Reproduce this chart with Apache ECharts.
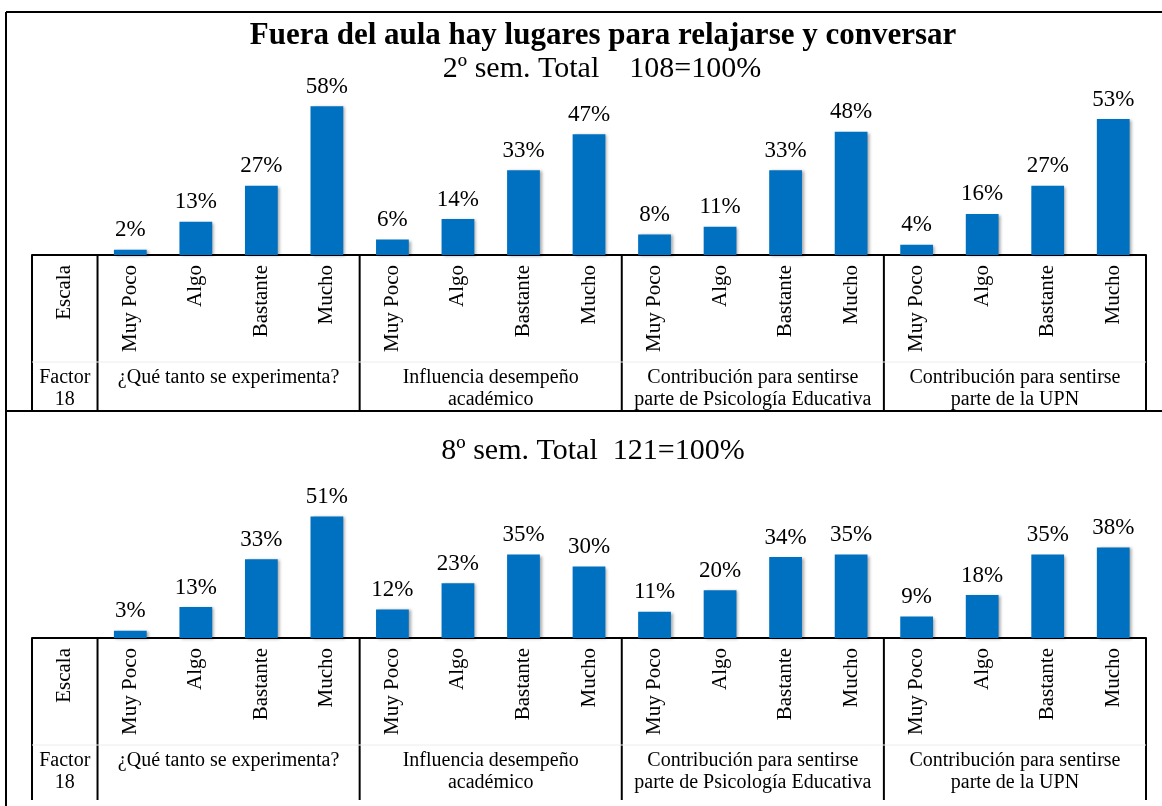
<!DOCTYPE html>
<html>
<head>
<meta charset="utf-8">
<script src="https://cdn.jsdelivr.net/npm/echarts@6/dist/echarts.min.js"></script>
<style>
  html, body { margin: 0; padding: 0; background: #fff; }
  #main { width: 1162px; height: 806px; }
</style>
</head>
<body>
<div id="main"></div>
<script>
// escala y categorias
const escalas = ['Muy Poco', 'Algo', 'Bastante', 'Mucho']
const grupos = [
  '¿Qué tanto se experimenta?',
  'Influencia desempeño\nacadémico',
  'Contribución para sentirse\nparte de Psicología Educativa',
  'Contribución para sentirse\nparte de la UPN'
]
const categorias = ['Escala'].concat(escalas, escalas, escalas, escalas)

// 2º semestre (108 = 100%)
const sem2 = [null, 2, 13, 27, 58, 6, 14, 33, 47, 8, 11, 33, 48, 4, 16, 27, 53]
// 8º semestre (121 = 100%)
const sem8 = [null, 3, 13, 33, 51, 12, 23, 35, 30, 11, 20, 34, 35, 9, 18, 35, 38]

const fuente = 'Liberation Serif'
const azul = '#0070C0'

const chart = echarts.init(document.getElementById('main'))

function ejeX(gridIndex) {
  return {
    type: 'category',
    gridIndex: gridIndex,
    data: categorias,
    axisLine: { lineStyle: { color: '#000', width: 2 } },
    axisTick: { show: false },
    axisLabel: {
      rotate: 90,
      interval: 0,
      margin: 10,
      color: '#000',
      fontSize: 21,
      fontFamily: fuente
    }
  }
}

function ejeY(gridIndex) {
  return {
    type: 'value',
    gridIndex: gridIndex,
    min: 0,
    max: 60,
    show: false,
    splitLine: { show: false }
  }
}

function barras(datos, idx) {
  return {
    type: 'bar',
    xAxisIndex: idx,
    yAxisIndex: idx,
    data: datos,
    barWidth: '50%',
    itemStyle: {
      color: azul,
      shadowColor: 'rgba(0,0,0,0.35)',
      shadowBlur: 3,
      shadowOffsetX: 2,
      shadowOffsetY: 1
    },
    label: {
      show: true,
      position: 'top',
      distance: 8,
      formatter: '{c}%',
      color: '#000',
      fontSize: 23,
      fontFamily: fuente
    }
  }
}

chart.setOption({
  animation: false,
  backgroundColor: '#fff',
  title: [
    {
      text: 'Fuera del aula hay lugares para relajarse y conversar',
      left: 598, top: 15, textAlign: 'center',
      textStyle: { fontFamily: fuente, fontSize: 31, fontWeight: 'bold', color: '#000' }
    },
    {
      text: '2º sem. Total    108=100%',
      left: 597, top: 49, textAlign: 'center',
      textStyle: { fontFamily: fuente, fontSize: 30, fontWeight: 'normal', color: '#000' }
    },
    {
      text: '8º sem. Total  121=100%',
      left: 588, top: 431, textAlign: 'center',
      textStyle: { fontFamily: fuente, fontSize: 30, fontWeight: 'normal', color: '#000' }
    }
  ],
  grid: [
    { left: 32, right: 16, top: 101, height: 154 },
    { left: 32, right: 16, top: 495, height: 143 }
  ],
  xAxis: [ejeX(0), ejeX(1)],
  yAxis: [ejeY(0), ejeY(1)],
  series: [barras(sem2, 0), barras(sem8, 1)]
})

// tabla debajo de los ejes, calculada desde las escalas
function dibujarTabla() {
  const elementos = []
  const negro = { stroke: '#000', lineWidth: 2 }

  // marco exterior
  elementos.push({ type: 'line', shape: { x1: 6, y1: 12, x2: 1162, y2: 12 }, style: negro })
  elementos.push({ type: 'line', shape: { x1: 6, y1: 12, x2: 6, y2: 806 }, style: negro })

  const paneles = [
    { idx: 0, fondo: 411, filaGris: 362 },
    { idx: 1, fondo: 800, filaGris: 745 }
  ]
  paneles.forEach(function (p) {
    const c0 = chart.convertToPixel({ xAxisIndex: p.idx }, 0)
    const c1 = chart.convertToPixel({ xAxisIndex: p.idx }, 1)
    const banda = c1 - c0
    const borde = function (k) { return c0 - banda / 2 + k * banda }
    const ejeY = chart.convertToPixel({ yAxisIndex: p.idx }, 0)

    const cortes = [0, 1, 5, 9, 13, 17]
    cortes.forEach(function (k) {
      elementos.push({
        type: 'line',
        shape: { x1: borde(k), y1: ejeY, x2: borde(k), y2: p.fondo },
        style: negro
      })
    })
    // linea gris tenue entre filas
    elementos.push({
      type: 'line',
      shape: { x1: borde(0), y1: p.filaGris, x2: borde(17), y2: p.filaGris },
      style: { stroke: '#ececec', lineWidth: 1 }
    })

    const filaTexto = ejeY + 112
    elementos.push({
      type: 'text',
      x: (borde(0) + borde(1)) / 2,
      y: filaTexto,
      style: {
        text: 'Factor\n18', fill: '#000', font: '20px "' + fuente + '"',
        align: 'center', verticalAlign: 'top', lineHeight: 22
      }
    })
    grupos.forEach(function (g, i) {
      const a = borde(1 + i * 4)
      const b = borde(5 + i * 4)
      elementos.push({
        type: 'text',
        x: (a + b) / 2,
        y: filaTexto,
        style: {
          text: g, fill: '#000', font: '20px "' + fuente + '"',
          align: 'center', verticalAlign: 'top', lineHeight: 22
        }
      })
    })
  })

  // separador entre paneles
  elementos.push({ type: 'line', shape: { x1: 6, y1: 411, x2: 1162, y2: 411 }, style: negro })

  chart.setOption({ graphic: elementos })
}

dibujarTabla()
</script>
</body>
</html>
